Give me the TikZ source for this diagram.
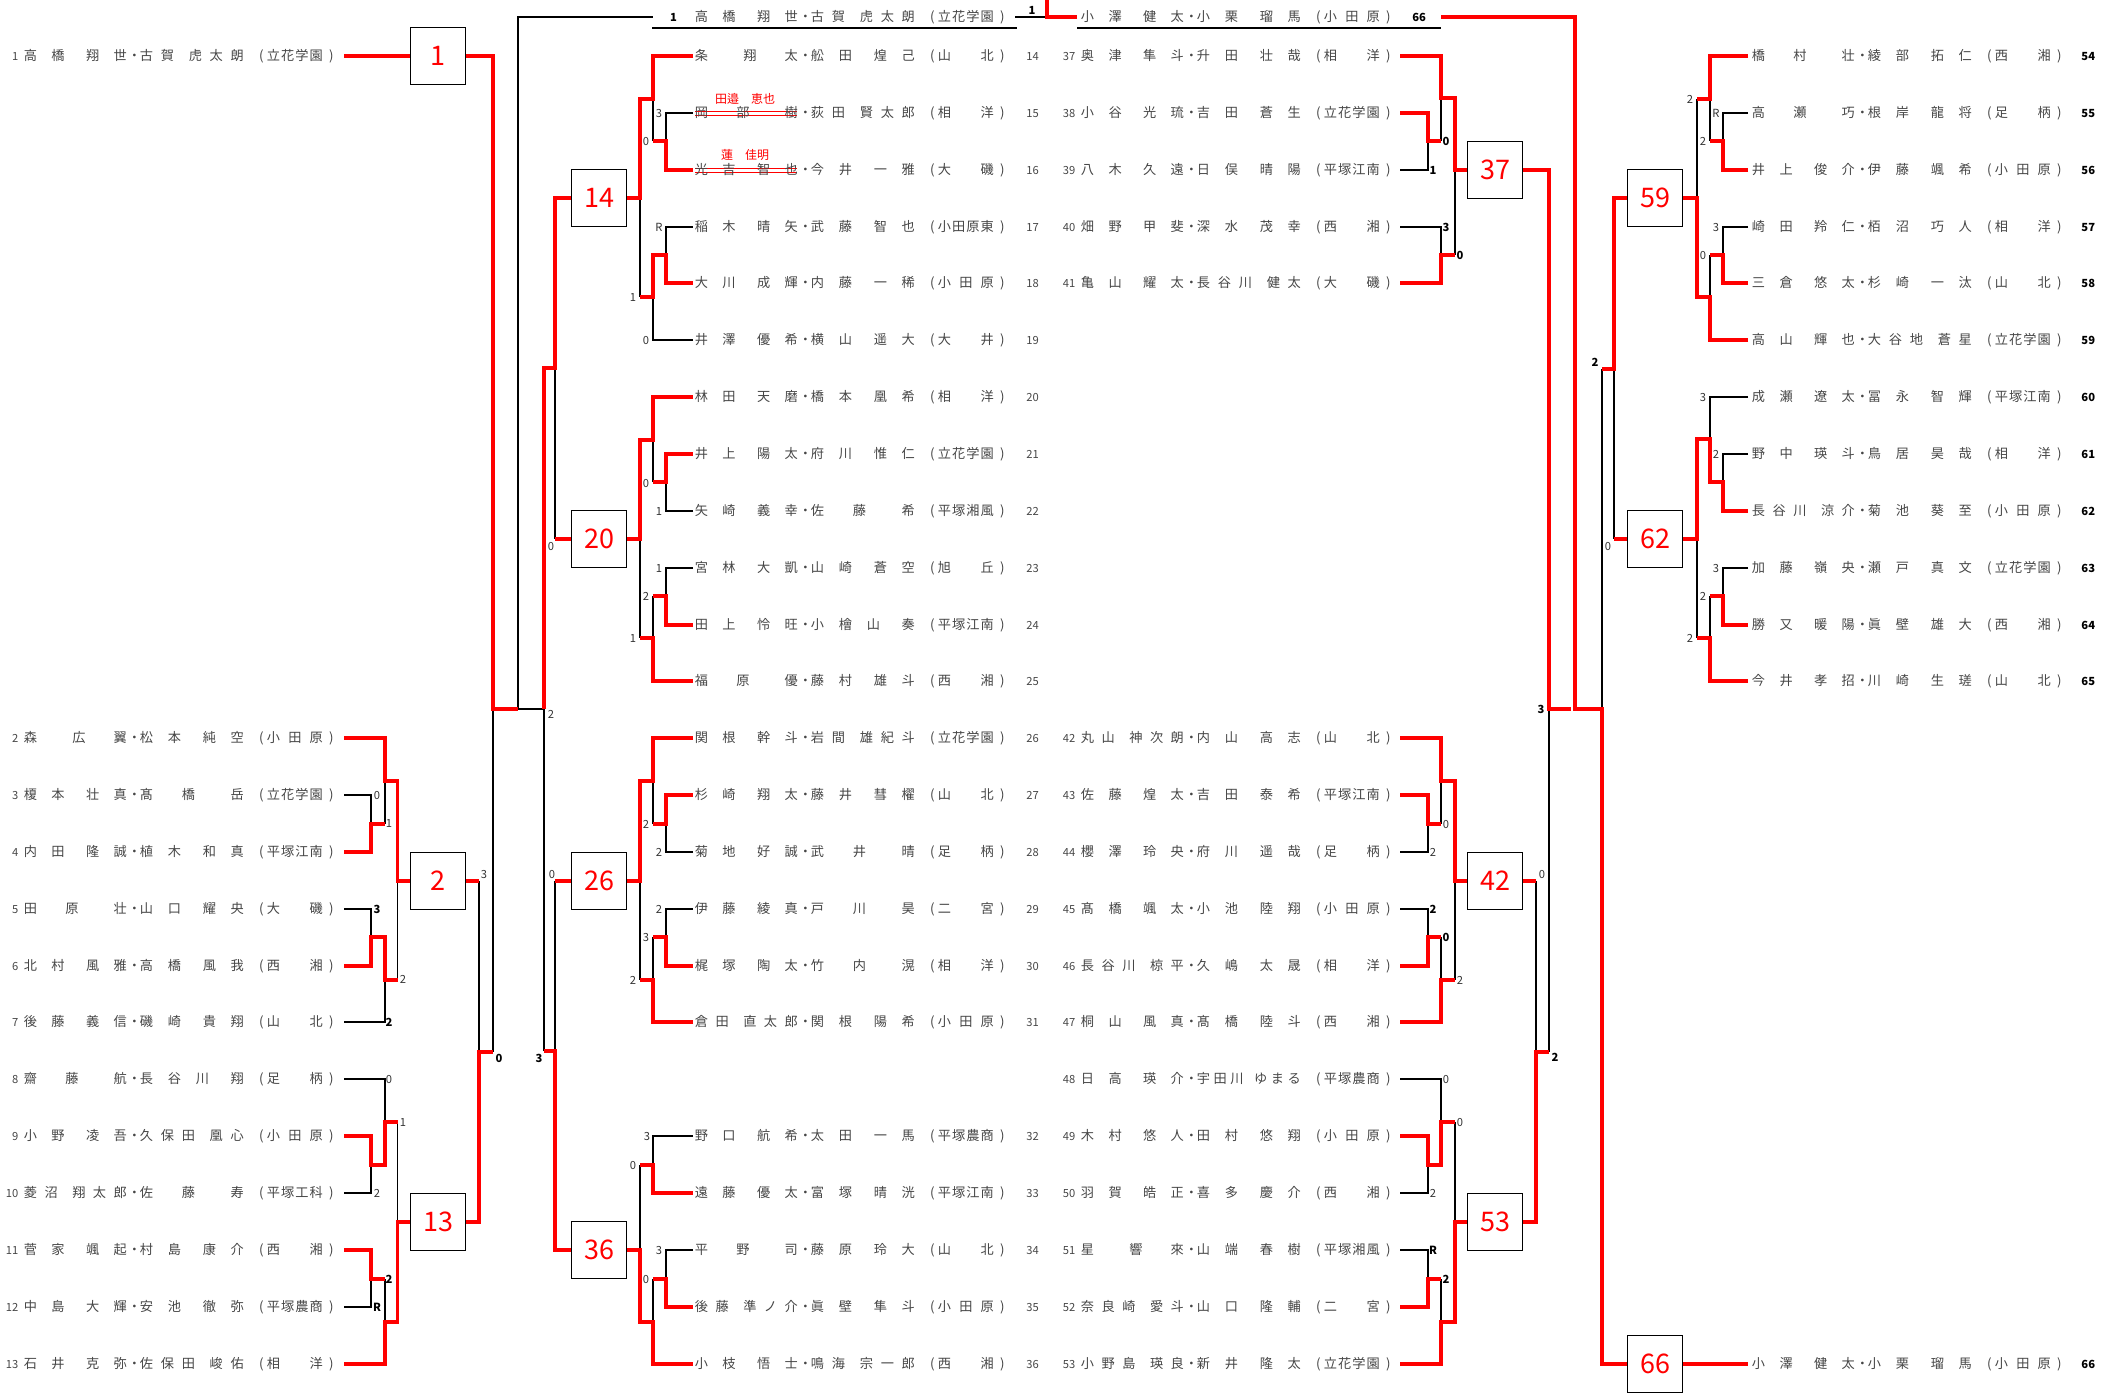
\documentclass[tikz,border=0pt]{standalone}
\usepackage{fontspec}
\setmainfont{Noto Sans CJK JP}
\definecolor{txt}{RGB}{70,70,70}
\definecolor{rd}{RGB}{255,0,0}
\def\sprX#1#2\endspr{#1\ifx\relax#2\relax\else\hfill\sprX#2\endspr\fi}
\newcommand\spr[1]{\sprX#1\endspr}
\newcommand\nmA[2]{\hbox to 51.5pt{\spr{#1}\hfill\hskip3.5pt\spr{#2}}}
\newcommand\nmB[2]{\hbox to 52pt{\spr{#1}\hfill\hskip3.5pt\spr{#2}}}
\newcommand\schl[1]{\hbox to 28pt{\spr{#1}}}
\newcommand\pnames[5]{\rlap{\nmA{#1}{#2}}\hskip55.25pt\makebox[0pt]{・}\hskip2.75pt\rlap{\nmB{#3}{#4}}\hskip60.75pt\makebox[0pt]{(}\hskip2.75pt\rlap{\schl{#5}}\hskip32.25pt\makebox[0pt]{)}}
\newcommand\numfont{\fontsize{5.6}{6}\selectfont}
\newcommand\rowL[8]{\node[nm,anchor=base west] (p#3) at ({#1-6.5},{#2+4.7}) {\llap{{\numfont #3}\hskip2.75pt}\pnames{#4}{#5}{#6}{#7}{#8}};}
\newcommand\rowR[8]{\node[nm,anchor=base west] (p#3) at ({#1-6.5},{#2+4.7}) {\pnames{#4}{#5}{#6}{#7}{#8}\hskip12pt\rlap{\numfont #3}};}
\newcommand\rowRB[8]{\node[nm,anchor=base west] (p#3) at ({#1-6.5},{#2+4.7}) {\pnames{#4}{#5}{#6}{#7}{#8}\hskip11pt\rlap{\numfont\bfseries\color{black}#3}};}
\newcounter{scn}
\newcommand\scorelab[4][scl]{\stepcounter{scn}\node[#1] (sc\arabic{scn}) at (#2,#3) {#4};}
\tikzset{
 blk/.style={draw=black, line width=0.65pt},
 rl/.style={draw=rd, line width=1.7pt},
 box/.style={draw=black, line width=0.7pt, fill=white, minimum width=27.5pt, minimum height=28.5pt, inner sep=0pt, text=rd, font=\fontsize{13.5}{14}\selectfont},
 nm/.style={inner sep=0pt, text=txt, font=\fontsize{6.6}{7}\selectfont},
 scl/.style={inner sep=0pt, text=black!80, font=\fontsize{5.6}{6}\selectfont},
 scb/.style={inner sep=0pt, text=black, font=\fontsize{5.6}{6}\selectfont\bfseries},
 sub/.style={inner sep=0pt, text=rd, font=\fontsize{6}{6}\selectfont},
}
\begin{document}
\begin{tikzpicture}[x=0.5pt,y=-0.5pt]
\useasboundingbox (0,0) rectangle (2118,1394);
% ---------------- black lines ----------------
\draw[blk] (344,795)--(371,795)--(371,824);
\draw[blk] (385,781)--(385,824);
\draw[blk] (344,909)--(371,909)--(371,937);
\draw[blk] (344,1022)--(385,1022)--(385,980);
\draw[blk] (397.5,980)--(397.5,881);
\draw[blk] (344,1079)--(385,1079)--(385,1122);
\draw[blk] (344,1193)--(371,1193)--(371,1165);
\draw[blk] (344,1307)--(371,1307)--(371,1279);
\draw[blk] (385,1279)--(385,1322);
\draw[blk] (397.5,1122)--(397.5,1222);
\draw[blk] (693,113)--(666,113)--(666,141);
\draw[blk] (653,99)--(653,141);
\draw[blk] (693,227)--(666,227)--(666,255);
\draw[blk] (693,340)--(653,340)--(653,297);
\draw[blk] (640,198)--(640,297);
\draw[blk] (693,511)--(666,511)--(666,482);
\draw[blk] (653,440)--(653,482);
\draw[blk] (693,568)--(666,568)--(666,596);
\draw[blk] (653,596)--(653,638);
\draw[blk] (640,539)--(640,638);
\draw[blk] (693,852)--(666,852)--(666,824);
\draw[blk] (653,781)--(653,824);
\draw[blk] (693,909)--(666,909)--(666,937);
\draw[blk] (653,937)--(653,980);
\draw[blk] (640,881)--(640,980);
\draw[blk] (693,1136)--(653,1136)--(653,1165);
\draw[blk] (693,1250)--(666,1250)--(666,1279);
\draw[blk] (653,1279)--(653,1322);
\draw[blk] (640,1165)--(640,1250);
\draw[blk] (1400,170)--(1428,170)--(1428,141);
\draw[blk] (1441,98)--(1441,141);
\draw[blk] (1400,227)--(1441,227)--(1441,255);
\draw[blk] (1455,170)--(1455,255);
\draw[blk] (1400,852)--(1428,852)--(1428,824);
\draw[blk] (1441,781)--(1441,824);
\draw[blk] (1400,909)--(1428,909)--(1428,937);
\draw[blk] (1441,937)--(1441,980);
\draw[blk] (1455,881)--(1455,980);
\draw[blk] (1400,1079)--(1441,1079)--(1441,1122);
\draw[blk] (1400,1193)--(1428,1193)--(1428,1165);
\draw[blk] (1400,1250)--(1428,1250)--(1428,1279);
\draw[blk] (1441,1279)--(1441,1322);
\draw[blk] (1455,1122)--(1455,1222);
\draw[blk] (1748,113)--(1723,113)--(1723,141);
\draw[blk] (1710,99)--(1710,141);
\draw[blk] (1748,227)--(1723,227)--(1723,255);
\draw[blk] (1710,255)--(1710,297);
\draw[blk] (1697,99)--(1697,198);
\draw[blk] (1748,397)--(1710,397)--(1710,439);
\draw[blk] (1748,454)--(1723,454)--(1723,482);
\draw[blk] (1748,568)--(1723,568)--(1723,596);
\draw[blk] (1710,596)--(1710,638);
\draw[blk] (1697,539)--(1697,638);
\draw[blk] (479,881)--(479,1052);
\draw[blk] (493,1052)--(493,709);
\draw[blk] (518,709)--(518,17)--(653,17);
\draw[blk] (555,368)--(555,539);
\draw[blk] (555,881)--(555,1051);
\draw[blk] (544,1051)--(544,709)--(518,709);
\draw[blk] (1536,881)--(1536,1052);
\draw[blk] (1549,1052)--(1549,709);
\draw[blk] (1614,369)--(1614,539);
\draw[blk] (1602,369)--(1602,709);
\draw[blk] (1015,17)--(1047,17);
\draw[blk] (652,28)--(1017,28);
\draw[blk] (1077,28)--(1441,28);
% ---------------- red lines ----------------
\draw[rl] (344,738)--(385,738)--(385,781)--(397.5,781)--(397.5,881)--(411,881);
\draw[rl] (344,852)--(371,852)--(371,824)--(385,824);
\draw[rl] (344,966)--(371,966)--(371,937)--(385,937)--(385,980)--(397.5,980);
\draw[rl] (344,1136)--(371,1136)--(371,1165)--(385,1165)--(385,1122)--(397.5,1122);
\draw[rl] (344,1250)--(371,1250)--(371,1279)--(385,1279);
\draw[rl] (344,1364)--(385,1364)--(385,1322)--(397.5,1322)--(397.5,1222)--(411,1222);
\draw[rl] (344,56)--(411,56);
\draw[rl] (693,56)--(653,56)--(653,99)--(640,99)--(640,198)--(627,198);
\draw[rl] (693,170)--(666,170)--(666,141)--(653,141);
\draw[rl] (693,283)--(666,283)--(666,255)--(653,255)--(653,297)--(640,297);
\draw[rl] (693,397)--(653,397)--(653,440)--(640,440)--(640,539)--(627,539);
\draw[rl] (693,454)--(666,454)--(666,482)--(653,482);
\draw[rl] (693,625)--(666,625)--(666,596)--(653,596);
\draw[rl] (693,681)--(653,681)--(653,638)--(640,638);
\draw[rl] (693,738)--(653,738)--(653,781)--(640,781)--(640,881)--(627,881);
\draw[rl] (693,795)--(666,795)--(666,824)--(653,824);
\draw[rl] (693,966)--(666,966)--(666,937)--(653,937);
\draw[rl] (693,1022)--(653,1022)--(653,980)--(640,980);
\draw[rl] (693,1193)--(653,1193)--(653,1165)--(640,1165);
\draw[rl] (693,1307)--(666,1307)--(666,1279)--(653,1279);
\draw[rl] (693,1364)--(653,1364)--(653,1322)--(640,1322)--(640,1250)--(627,1250);
\draw[rl] (1400,56)--(1441,56)--(1441,98)--(1455,98)--(1455,170)--(1467,170);
\draw[rl] (1400,113)--(1428,113)--(1428,141)--(1441,141);
\draw[rl] (1400,283)--(1441,283)--(1441,255)--(1455,255);
\draw[rl] (1400,738)--(1441,738)--(1441,781)--(1455,781)--(1455,881)--(1467,881);
\draw[rl] (1400,795)--(1428,795)--(1428,824)--(1441,824);
\draw[rl] (1400,966)--(1428,966)--(1428,937)--(1441,937);
\draw[rl] (1400,1022)--(1441,1022)--(1441,980)--(1455,980);
\draw[rl] (1400,1136)--(1428,1136)--(1428,1165)--(1441,1165)--(1441,1122)--(1455,1122);
\draw[rl] (1400,1307)--(1428,1307)--(1428,1279)--(1441,1279);
\draw[rl] (1400,1364)--(1441,1364)--(1441,1322)--(1455,1322)--(1455,1222)--(1467,1222);
\draw[rl] (1748,56)--(1710,56)--(1710,99)--(1697,99);
\draw[rl] (1748,170)--(1723,170)--(1723,141)--(1710,141);
\draw[rl] (1748,283)--(1723,283)--(1723,255)--(1710,255);
\draw[rl] (1748,340)--(1710,340)--(1710,297)--(1697,297)--(1697,198)--(1683,198);
\draw[rl] (1748,511)--(1723,511)--(1723,482)--(1710,482)--(1710,439)--(1697,439)--(1697,539)--(1683,539);
\draw[rl] (1748,625)--(1723,625)--(1723,596)--(1710,596);
\draw[rl] (1748,681)--(1710,681)--(1710,638)--(1697,638);
\draw[draw=rd, line width=0.45pt] (695,111)--(797,111) (695,115)--(797,115);
\draw[draw=rd, line width=0.45pt] (695,168)--(797,168) (695,172)--(797,172);
% ---------------- boxes ----------------
\node[box] (b1) at (438,56) {1};
\node[box] (b2) at (438,881) {2};
\node[box] (b13) at (438,1222) {13};
\node[box] (b14) at (599,198) {14};
\node[box] (b20) at (599,539) {20};
\node[box] (b26) at (599,881) {26};
\node[box] (b36) at (599,1250) {36};
\node[box] (b37) at (1495,170) {37};
\node[box] (b42) at (1495,881) {42};
\node[box] (b53) at (1495,1222) {53};
\node[box] (b59) at (1655,198) {59};
\node[box] (b62) at (1655,539) {62};
\node[box] (b66) at (1655,1364) {66};
\draw[rl] (b2.east)--(479,881);
\draw[rl] (b13.east)--(479,1222)--(479,1052)--(493,1052);
\draw[rl] (b1.east)--(493,56)--(493,709)--(518,709);
\draw[rl] (b14.west)--(555,198)--(555,368)--(544,368)--(544,709);
\draw[rl] (b20.west)--(555,539);
\draw[rl] (b26.west)--(555,881);
\draw[rl] (b36.west)--(555,1250)--(555,1051)--(544,1051);
\draw[rl] (b37.east)--(1549,170)--(1549,709)--(1571,709);
\draw[rl] (b42.east)--(1536,881);
\draw[rl] (b53.east)--(1536,1222)--(1536,1052)--(1549,1052);
\draw[rl] (b59.west)--(1614,198)--(1614,369)--(1602,369);
\draw[rl] (b62.west)--(1614,539);
\draw[rl] (b66.west)--(1602,1364)--(1602,709)--(1575,709)--(1575,17)--(1441,17);
\draw[rl] (b66.east)--(1748,1364);
\draw[rl] (1077,17)--(1047,17)--(1047,0);
% ---------------- names ----------------
\rowL{30}{56}{1}{高橋}{翔世}{古賀}{虎太朗}{立花学園}
\rowL{30}{738}{2}{森}{広翼}{松本}{純空}{小田原}
\rowL{30}{795}{3}{榎本}{壮真}{髙橋}{岳}{立花学園}
\rowL{30}{852}{4}{内田}{隆誠}{植木}{和真}{平塚江南}
\rowL{30}{909}{5}{田原}{壮}{山口}{耀央}{大磯}
\rowL{30}{966}{6}{北村}{風雅}{高橋}{風我}{西湘}
\rowL{30}{1022}{7}{後藤}{義信}{磯崎}{貴翔}{山北}
\rowL{30}{1079}{8}{齋藤}{航}{長谷川}{翔}{足柄}
\rowL{30}{1136}{9}{小野}{凌吾}{久保田}{凰心}{小田原}
\rowL{30}{1193}{10}{菱沼}{翔太郎}{佐藤}{寿}{平塚工科}
\rowL{30}{1250}{11}{菅家}{颯起}{村島}{康介}{西湘}
\rowL{30}{1307}{12}{中島}{大輝}{安池}{徹弥}{平塚農商}
\rowL{30}{1364}{13}{石井}{克弥}{佐保田}{峻佑}{相洋}
\rowR{701}{56}{14}{条}{翔太}{舩田}{煌己}{山北}
\rowR{701}{113}{15}{岡部}{樹}{荻田}{賢太郎}{相洋}
\rowR{701}{170}{16}{光吉}{智也}{今井}{一雅}{大磯}
\rowR{701}{227}{17}{稲木}{晴矢}{武藤}{智也}{小田原東}
\rowR{701}{283}{18}{大川}{成輝}{内藤}{一稀}{小田原}
\rowR{701}{340}{19}{井澤}{優希}{横山}{遥大}{大井}
\rowR{701}{397}{20}{林田}{天磨}{橋本}{凰希}{相洋}
\rowR{701}{454}{21}{井上}{陽太}{府川}{惟仁}{立花学園}
\rowR{701}{511}{22}{矢崎}{義幸}{佐藤}{希}{平塚湘風}
\rowR{701}{568}{23}{宮林}{大凱}{山崎}{蒼空}{旭丘}
\rowR{701}{625}{24}{田上}{怜旺}{小檜山}{奏}{平塚江南}
\rowR{701}{681}{25}{福原}{優}{藤村}{雄斗}{西湘}
\rowR{701}{738}{26}{関根}{幹斗}{岩間}{雄紀斗}{立花学園}
\rowR{701}{795}{27}{杉崎}{翔太}{藤井}{彗櫂}{山北}
\rowR{701}{852}{28}{菊地}{好誠}{武井}{晴}{足柄}
\rowR{701}{909}{29}{伊藤}{綾真}{戸川}{昊}{二宮}
\rowR{701}{966}{30}{梶塚}{陶太}{竹内}{滉}{相洋}
\rowR{701}{1022}{31}{倉田}{直太郎}{関根}{陽希}{小田原}
\rowR{701}{1136}{32}{野口}{航希}{太田}{一馬}{平塚農商}
\rowR{701}{1193}{33}{遠藤}{優太}{富塚}{晴洸}{平塚江南}
\rowR{701}{1250}{34}{平野}{司}{藤原}{玲大}{山北}
\rowR{701}{1307}{35}{後藤}{準ノ介}{眞壁}{隼斗}{小田原}
\rowR{701}{1364}{36}{小枝}{悟士}{鳴海}{宗一郎}{西湘}
\rowL{1087}{56}{37}{奥津}{隼斗}{升田}{壮哉}{相洋}
\rowL{1087}{113}{38}{小谷}{光琉}{吉田}{蒼生}{立花学園}
\rowL{1087}{170}{39}{八木}{久遠}{日俣}{晴陽}{平塚江南}
\rowL{1087}{227}{40}{畑野}{甲斐}{深水}{茂幸}{西湘}
\rowL{1087}{283}{41}{亀山}{耀太}{長谷川}{健太}{大磯}
\rowL{1087}{738}{42}{丸山}{神次朗}{内山}{高志}{山北}
\rowL{1087}{795}{43}{佐藤}{煌太}{吉田}{泰希}{平塚江南}
\rowL{1087}{852}{44}{櫻澤}{玲央}{府川}{遥哉}{足柄}
\rowL{1087}{909}{45}{髙橋}{颯太}{小池}{陸翔}{小田原}
\rowL{1087}{966}{46}{長谷川}{椋平}{久嶋}{太晟}{相洋}
\rowL{1087}{1022}{47}{桐山}{風真}{髙橋}{陸斗}{西湘}
\rowL{1087}{1079}{48}{日高}{瑛介}{宇田川}{ゆまる}{平塚農商}
\rowL{1087}{1136}{49}{木村}{悠人}{田村}{悠翔}{小田原}
\rowL{1087}{1193}{50}{羽賀}{皓正}{喜多}{慶介}{西湘}
\rowL{1087}{1250}{51}{星}{響來}{山端}{春樹}{平塚湘風}
\rowL{1087}{1307}{52}{奈良崎}{愛斗}{山口}{隆輔}{二宮}
\rowL{1087}{1364}{53}{小野島}{瑛良}{新井}{隆太}{立花学園}
\rowRB{1758}{56}{54}{橋村}{壮}{綾部}{拓仁}{西湘}
\rowRB{1758}{113}{55}{高瀬}{巧}{根岸}{龍将}{足柄}
\rowRB{1758}{170}{56}{井上}{俊介}{伊藤}{颯希}{小田原}
\rowRB{1758}{227}{57}{崎田}{羚仁}{栢沼}{巧人}{相洋}
\rowRB{1758}{283}{58}{三倉}{悠太}{杉崎}{一汰}{山北}
\rowRB{1758}{340}{59}{高山}{輝也}{大谷地}{蒼星}{立花学園}
\rowRB{1758}{397}{60}{成瀬}{遼太}{冨永}{智輝}{平塚江南}
\rowRB{1758}{454}{61}{野中}{瑛斗}{鳥居}{昊哉}{相洋}
\rowRB{1758}{511}{62}{長谷川}{涼介}{菊池}{葵至}{小田原}
\rowRB{1758}{568}{63}{加藤}{嶺央}{瀬戸}{真文}{立花学園}
\rowRB{1758}{625}{64}{勝又}{暖陽}{眞壁}{雄大}{西湘}
\rowRB{1758}{681}{65}{今井}{孝招}{川崎}{生瑳}{山北}
\rowRB{1758}{1364}{66}{小澤}{健太}{小栗}{瑠馬}{小田原}
\node[nm,anchor=base west] (h1) at (694.5,21.7) {\llap{{\numfont\bfseries\color{black}1}\hskip9pt}\pnames{高橋}{翔世}{古賀}{虎太朗}{立花学園}};
\node[nm,anchor=base west] (h66) at (1080.5,21.7) {\pnames{小澤}{健太}{小栗}{瑠馬}{小田原}\hskip12pt\rlap{\numfont\bfseries\color{black}66}};
\scorelab[scb]{1032}{10}{1}
\node[sub] (s15) at (745,99) {田邉　恵也};
\node[sub] (s16) at (745,155) {蓮　佳明};
% ---------------- scores ----------------
\scorelab{377}{795}{0}
\scorelab{389}{823}{1}
\scorelab[scb]{377}{909}{3}
\scorelab{403}{979}{2}
\scorelab[scb]{389}{1022}{2}
\scorelab{389}{1079}{0}
\scorelab{403}{1122}{1}
\scorelab{377}{1193}{2}
\scorelab[scb]{389}{1279}{2}
\scorelab[scb]{377}{1307}{R}
\scorelab{484}{874}{3}
\scorelab[scb]{499}{1058}{0}
\scorelab{659}{113}{3}
\scorelab{646}{141}{0}
\scorelab{659}{227}{R}
\scorelab{633}{297}{1}
\scorelab{646}{340}{0}
\scorelab{646}{483}{0}
\scorelab{659}{511}{1}
\scorelab{659}{568}{1}
\scorelab{646}{596}{2}
\scorelab{633}{638}{1}
\scorelab{646}{824}{2}
\scorelab{659}{852}{2}
\scorelab{659}{909}{2}
\scorelab{646}{937}{3}
\scorelab{633}{980}{2}
\scorelab{647}{1136}{3}
\scorelab{633}{1165}{0}
\scorelab{659}{1250}{3}
\scorelab{646}{1279}{0}
\scorelab{551}{546}{0}
\scorelab{551}{714}{2}
\scorelab{552}{874}{0}
\scorelab[scb]{539}{1058}{3}
\scorelab[scb]{1446}{141}{0}
\scorelab[scb]{1433}{170}{1}
\scorelab[scb]{1446}{227}{3}
\scorelab[scb]{1460}{255}{0}
\scorelab{1446}{824}{0}
\scorelab{1433}{852}{2}
\scorelab[scb]{1433}{909}{2}
\scorelab[scb]{1446}{937}{0}
\scorelab{1460}{980}{2}
\scorelab{1446}{1079}{0}
\scorelab{1460}{1122}{0}
\scorelab{1433}{1193}{2}
\scorelab[scb]{1433}{1250}{R}
\scorelab[scb]{1446}{1279}{2}
\scorelab{1542}{874}{0}
\scorelab[scb]{1555}{1057}{2}
\scorelab[scb]{1541}{709}{3}
\scorelab{1690}{99}{2}
\scorelab{1716}{113}{R}
\scorelab{1703}{141}{2}
\scorelab{1716}{227}{3}
\scorelab{1703}{255}{0}
\scorelab{1703}{397}{3}
\scorelab{1716}{454}{2}
\scorelab{1716}{568}{3}
\scorelab{1703}{596}{2}
\scorelab{1690}{638}{2}
\scorelab[scb]{1595}{362}{2}
\scorelab{1608}{546}{0}
\end{tikzpicture}
\end{document}
